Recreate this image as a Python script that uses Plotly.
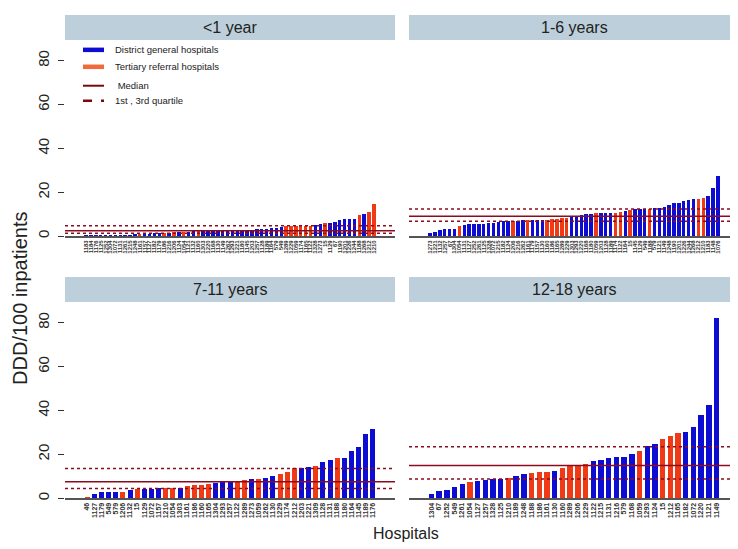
import plotly.graph_objects as go

# <1 year
lt1_ids = ['1183', '1184', '1176', '1125', '1252', '1304', '1072', '1131', '1261', '1215',
           '1248', '1161', '1157', '1127', '1182', '1179', '1186', '1216', '1206', '1124',
           '1054', '1121', '1132', '1160', '1303', '1220', '1168', '1130', '1149', '1262',
           '1293', '1221', '1180', '1145', '1203', '1257', '1128', '1189', '1164', '579',
           '549', '1289', '1229', '1059', '1174', '1165', '1122', '1328', '1273', '15',
           '1129', '67', '1190', '1201', '1226', '1244', '1188', '1268', '1212', '1210']
lt1_vals = [0.2, 0.3, 0.3, 0.4, 0.4, 0.4, 0.5, 0.6, 0.7, 0.8,
            0.9, 1.1, 1.2, 1.2, 1.3, 1.4, 1.6, 1.7, 1.8, 1.9,
            2.0, 2.1, 2.2, 2.3, 2.4, 2.4, 2.5, 2.5, 2.6, 2.7,
            2.7, 2.7, 2.8, 2.9, 3.0, 3.2, 3.4, 3.5, 3.7, 4.0,
            4.3, 4.5, 4.6, 4.7, 4.8, 4.8, 4.9, 5.3, 5.6, 6.0,
            6.1, 6.5, 7.5, 7.8, 7.9, 8.0, 9.6, 10.2, 10.9, 14.7]
lt1_kind = ['D'] * 11 + ['T', 'D', 'D', 'D', 'D', 'T', 'D', 'T', 'D', 'T', 'D', 'D', 'T'] + \
           ['D'] * 17 + ['T'] * 6 + ['D', 'D', 'T', 'D', 'D', 'D', 'D', 'D', 'D', 'T', 'D', 'T', 'T']
lt1_stats = [1.3, 2.5, 4.7]  # 1st quartile, median, 3rd quartile

# 1-6 years
y1_6_ids = ['1273', '1221', '1132', '1257', '67', '1304', '1054', '1131', '1127', '1252',
            '1261', '1125', '1328', '1072', '1215', '1182', '1124', '1206', '1216', '1262',
            '1161', '1179', '1157', '1130', '1160', '1186', '1165', '1289', '1229', '1303',
            '1293', '1220', '1168', '1180', '1059', '1203', '1128', '1189', '1174', '1122',
            '1164', '15', '1145', '1129', '549', '1188', '579', '1121', '1149', '1248',
            '1190', '1201', '1226', '1244', '1268', '1212', '1210', '1183', '1148', '1076']
y1_6_vals = [1.5, 2.1, 3.0, 3.1, 3.2, 3.2, 4.9, 5.3, 5.7, 5.8,
             5.8, 5.8, 6.0, 6.2, 6.7, 6.8, 6.8, 7.0, 7.0, 7.2,
             7.3, 7.3, 7.4, 7.4, 7.5, 7.7, 7.7, 8.3, 8.3, 8.6,
             8.9, 9.8, 10.1, 10.2, 10.6, 10.7, 10.7, 10.8, 10.8, 11.1,
             11.7, 12.2, 12.3, 12.4, 12.4, 12.6, 12.7, 13.0, 13.3, 14.1,
             15.1, 15.2, 16.0, 16.5, 16.8, 17.1, 17.3, 18.3, 21.8, 27.3]
y1_6_kind = ['D'] * 6 + ['T'] + ['D'] * 10 + ['T', 'D', 'D', 'T', 'D', 'D', 'D', 'T', 'T', 'T', 'T', 'T'] + \
            ['D'] * 5 + ['T', 'D', 'D', 'D', 'T', 'T', 'D', 'T', 'D', 'D', 'D', 'T'] + \
            ['D'] * 9 + ['T', 'T', 'D', 'D', 'D']
y1_6_stats = [6.8, 9.1, 12.4]

# 7-11 years
y7_11_ids = ['46', '1127', '1179', '549', '579', '1206', '1132', '15', '1129', '1072',
             '1157', '1210', '1054', '1303', '1161', '1186', '1160', '1165', '1304', '1293',
             '1257', '1122', '1289', '1273', '1059', '1262', '1130', '1229', '1174', '1212',
             '1203', '1221', '1309', '1128', '1131', '1188', '1180', '1164', '1145', '1189',
             '1176']
y7_11_vals = [0.4, 2.1, 2.7, 2.7, 2.8, 3.0, 3.6, 4.1, 4.3, 4.4,
              4.5, 4.5, 4.5, 4.6, 5.6, 5.9, 6.2, 6.6, 7.0, 7.4,
              7.7, 8.1, 8.5, 8.6, 8.7, 9.4, 10.2, 11.1, 12.0, 13.6,
              13.9, 14.4, 14.5, 16.5, 17.5, 18.5, 18.5, 21.6, 23.3, 29.5,
              31.4]
y7_11_kind = ['T', 'D', 'D', 'D', 'D', 'T', 'D', 'T', 'D', 'D',
              'D', 'T', 'T', 'D', 'T', 'T', 'T', 'T', 'D', 'D',
              'D', 'T', 'T', 'D', 'T', 'D', 'D', 'T', 'T', 'T',
              'D', 'D', 'T', 'D', 'D', 'T', 'D', 'D', 'D', 'D',
              'D']
y7_11_stats = [4.4, 7.5, 13.6]

# 12-18 years
y12_18_ids = ['1304', '67', '1252', '549', '1261', '1054', '1127', '1257', '1328', '1125',
              '1210', '1189', '1248', '1188', '1186', '1161', '1130', '1160', '1289', '1206',
              '1229', '1122', '1215', '1131', '1216', '579', '1168', '1059', '1293', '1124',
              '15', '1212', '1165', '1182', '1072', '1220', '1121', '1149']
y12_18_vals = [1.9, 3.5, 3.6, 5.1, 6.6, 7.4, 7.7, 8.2, 8.9, 8.9,
               9.1, 10.3, 11.2, 11.7, 11.8, 11.8, 12.6, 13.8, 14.9, 15.0,
               15.6, 16.8, 17.3, 18.2, 18.9, 19.0, 20.1, 21.4, 23.9, 24.7,
               26.9, 28.4, 29.9, 30.1, 32.3, 38.2, 42.7, 82.0]
y12_18_kind = ['D', 'D', 'D', 'D', 'D', 'T', 'D', 'D', 'D', 'D',
               'T', 'D', 'D', 'T', 'T', 'T', 'D', 'T', 'T', 'T',
               'T', 'D', 'D', 'D', 'D', 'D', 'D', 'T', 'D', 'D',
               'T', 'T', 'T', 'D', 'D', 'D', 'D', 'D']
y12_18_stats = [8.8, 14.9, 23.5]

y_ticks = [0, 20, 40, 60, 80]

legend_labels = ['District general hospitals', 'Tertiary referral hospitals', ' Median', '1st , 3rd quartile']

W, H = 738, 549
BLUE = '#0c0cd2'
ORANGE = '#f03a16'
LINE_RED = '#8b0c1c'
STRIP = '#bccfda'
FONT = 'Arial, Liberation Sans, sans-serif'


def fx(p):
    return p / W


def fy(p):
    return 1 - p / H


panels = [
    ('<1 year', lt1_ids, lt1_vals, lt1_kind, lt1_stats, 57, 32, 6),
    ('1-6 years', y1_6_ids, y1_6_vals, y1_6_kind, y1_6_stats, 401, 32, 6),
    ('7-11 years', y7_11_ids, y7_11_vals, y7_11_kind, y7_11_stats, 57, 295, 7),
    ('12-18 years', y12_18_ids, y12_18_vals, y12_18_kind, y12_18_stats, 401, 295, 7),
]

fig = go.Figure()
shapes = []
annotations = []

for k, (title, ids, vals, kind, stats, left, top, tsize) in enumerate(panels):
    sfx = '' if k == 0 else str(k + 1)
    n = len(vals)
    pad = 0.065 * (n - 1)
    fig.add_bar(x=list(range(n)), y=vals,
                marker=dict(color=[BLUE if c == 'D' else ORANGE for c in kind], line=dict(width=0)),
                width=0.7, xaxis='x' + sfx, yaxis='y' + sfx, showlegend=False,
                hovertext=ids)

    fig.layout['xaxis' + sfx] = dict(
        domain=[fx(left), fx(left + 330)], anchor='y' + sfx,
        range=[-pad - 0.5, n - 0.5 + pad],
        tickmode='array', tickvals=list(range(n)), ticktext=['<b>%s</b>' % t for t in ids],
        tickangle=-90, tickfont=dict(size=tsize, family=FONT, color='#333'),
        showline=True, linecolor='#555', linewidth=1.5,
        showgrid=False, zeroline=False, ticks='')
    left_col = left < 100
    fig.layout['yaxis' + sfx] = dict(
        domain=[fy(top + 197), fy(top)], anchor='x' + sfx,
        range=[0, 89.5], tickvals=y_ticks,
        showticklabels=left_col, ticks='outside' if left_col else '',
        ticklen=6, tickcolor='#333', tickangle=-90, ticklabelstandoff=3,
        tickfont=dict(size=15, family=FONT, color='#222'),
        showgrid=False, zeroline=False, showline=False)

    # strip header
    shapes.append(dict(type='rect', xref='paper', yref='paper',
                       x0=fx(left), x1=fx(left + 330), y0=fy(top), y1=fy(top - 25),
                       fillcolor=STRIP, line=dict(width=0), layer='below'))
    annotations.append(dict(text=title, xref='paper', yref='paper',
                            x=fx(left + 165), y=fy(top - 12.5), showarrow=False,
                            font=dict(size=16, family=FONT, color='#222'),
                            xanchor='center', yanchor='middle'))

    # quartile and median lines
    for v, dash in zip(stats, ['dot', 'solid', 'dot']):
        shapes.append(dict(type='line', xref='x' + sfx + ' domain', yref='y' + sfx,
                           x0=0, x1=1, y0=v, y1=v,
                           line=dict(color=LINE_RED, width=1.5, dash=dash)))

# legend drawn inside the first panel
legend_styles = [(BLUE, 4.5, 'solid'), ('#f06a3a', 4.5, 'solid'),
                 ('#7a0a0a', 2, 'solid'), ('#7a0a0a', 2.5, 'dash')]
for label, (color, width, dash), ypix in zip(legend_labels, legend_styles, [42, 59, 78, 93]):
    shapes.append(dict(type='line', xref='paper', yref='paper',
                       x0=fx(75), x1=fx(96), y0=fy(ypix), y1=fy(ypix),
                       line=dict(color=color, width=width, dash=dash)))
    annotations.append(dict(text=label, xref='paper', yref='paper',
                            x=fx(105), y=fy(ypix), showarrow=False,
                            xanchor='left', yanchor='middle',
                            font=dict(size=9.5, family=FONT, color='#222')))

annotations.append(dict(text='DDD/100 inpatients', xref='paper', yref='paper',
                        x=fx(12), y=fy(292), showarrow=False, textangle=-90,
                        xanchor='center', yanchor='middle',
                        font=dict(size=20, family=FONT, color='#222')))
annotations.append(dict(text='Hospitals', xref='paper', yref='paper',
                        x=fx(398), y=fy(527), showarrow=False,
                        xanchor='center', yanchor='middle',
                        font=dict(size=16, family=FONT, color='#222')))

fig.update_layout(width=W, height=H, margin=dict(l=0, r=0, t=0, b=0),
                  paper_bgcolor='white', plot_bgcolor='white',
                  shapes=shapes, annotations=annotations, bargap=0)

fig.write_html("out.html")
